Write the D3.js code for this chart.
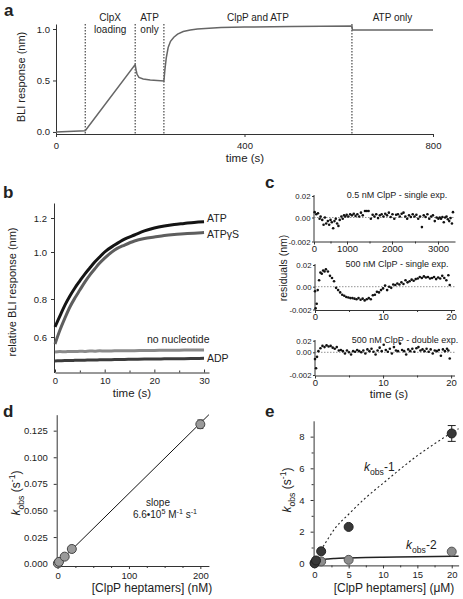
<!DOCTYPE html>
<html><head><meta charset="utf-8">
<script src="https://cdn.jsdelivr.net/npm/d3@7"></script>
<style>
body{margin:0;background:#fff}
svg{display:block}
text{font-family:"Liberation Sans",Arial,Helvetica,sans-serif;fill:#222}
</style>
</head><body>
<svg id="fig" width="463" height="599"></svg>
<script>
// ---------------- DATA ----------------
// panel a: BLI trace
const aTime = [0, 62, 168, 170, 172, 176, 185, 200, 229, 231, 234, 238, 243, 250, 258, 270, 285, 300, 350, 400, 500, 628, 629, 700, 800];
const aResp = [0.0, 0.012, 0.655, 0.6, 0.56, 0.53, 0.515, 0.505, 0.495, 0.6, 0.72, 0.82, 0.88, 0.92, 0.95, 0.975, 0.99, 1.0, 1.015, 1.02, 1.025, 1.03, 0.99, 0.99, 0.99];
const aStepTimes = [62, 168, 229, 628];
const aStepLabels = [["ClpX", "loading"], ["ATP", "only"], ["ClpP and ATP"], ["ATP only"]];
const aXTicks = [0, 400, 800];
const aYTicks = [0, 0.5, 1.0];

// panel b: relative BLI response
const bTime = [0,1,2,3,4,5,6,7,8,9,10,12,14,16,18,20,22,24,26,28,30];
const bATP = [0.653,0.711,0.768,0.813,0.847,0.877,0.906,0.932,0.957,0.979,1.0,1.041,1.076,1.1,1.124,1.141,1.153,1.162,1.168,1.174,1.178];
const bATPgS = [0.563,0.637,0.7,0.758,0.804,0.838,0.872,0.902,0.928,0.953,0.974,1.012,1.041,1.065,1.079,1.088,1.097,1.103,1.107,1.111,1.114];
const bNoNuc = [0.52,0.522,0.521,0.523,0.522,0.524,0.523,0.525,0.524,0.526,0.525,0.526,0.527,0.527,0.528,0.528,0.529,0.529,0.53,0.53,0.531];
const bADP = [0.472,0.473,0.474,0.474,0.475,0.476,0.476,0.477,0.477,0.478,0.478,0.479,0.48,0.481,0.482,0.482,0.483,0.484,0.484,0.485,0.486];
const bSeriesNames = ["ATP", "ATPγS", "no nucleotide", "ADP"];
const bXTicks = [0, 10, 20, 30];
const bYTicks = [0.6, 0.8, 1.0, 1.2];

// panel c: residuals (units of 1e-3 nm)
const cTitles = ["0.5 nM ClpP - single exp.", "500 nM ClpP - single exp.", "500 nM ClpP - double exp."];
const cYTickLabels = ["-0.002", "0.00", "0.02"];
const cTopT = [20,70,120,170,200,250,290,330,370,420,460,500,540,580,620,660,700,740,780,830,870,910,950,990,1030,1070,1110,1150,1190,1230,1270,1310,1350,1400,1440,1480,1530,1570,1610,1650,1690,1730,1770,1810,1850,1890,1930,1970,2010,2050,2090,2130,2170,2210,2250,2290,2330,2370,2410,2450,2490,2530,2570,2610,2650,2690,2730,2770,2810,2850,2890,2930,2970,3010,3050,3090,3130,3170,3210,3250,3290,3330,3370,3410,3440];
const cTopV = [0.5,0.3,0.4,-0.1,0.1,-0.2,-0.6,0.0,-0.5,-0.3,-0.6,-0.2,-0.4,-0.9,-0.3,-0.1,-0.5,-0.7,-0.2,0.1,-0.1,0.2,0.1,0.25,0.1,0.3,0.2,0.35,0.15,0.3,0.1,0.45,0.2,0.6,0.6,0.6,-0.1,0.25,0.1,0.3,-0.05,0.2,0.3,0.1,0.35,0.2,0.45,0.05,0.3,-0.1,0.25,0.3,0.1,0.35,0.45,0.1,-0.1,0.2,0.05,0.3,0.1,0.25,-0.1,0.1,-0.8,0.2,0.05,0.3,-0.1,0.1,0.2,-0.3,0.0,-0.1,0.0,-0.1,0.05,-0.4,0.0,0.1,-0.15,-0.3,-0.05,-0.5,0.5];
const cMidT = [0,0.1,0.25,0.4,0.6,0.8,1.0,1.2,1.4,1.6,1.9,2.2,2.5,2.8,3.1,3.4,3.7,4.0,4.3,4.6,4.9,5.2,5.5,5.8,6.1,6.4,6.7,7.0,7.3,7.6,7.9,8.2,8.5,8.8,9.1,9.4,9.7,10.0,10.3,10.6,10.9,11.2,11.5,11.8,12.1,12.4,12.7,13.0,13.3,13.6,13.9,14.2,14.5,14.8,15.1,15.4,15.7,16.0,16.3,16.6,16.9,17.2,17.5,17.8,18.1,18.4,18.7,19.0,19.3,19.6,19.8];
const cMidV = [-0.4,-1.9,-1.5,-0.3,0.6,1.3,1.2,1.5,1.4,1.6,1.4,1.0,0.8,0.5,-0.1,-0.3,-0.5,-0.7,-0.8,-0.9,-0.95,-1.0,-1.0,-1.05,-1.1,-1.0,-1.15,-1.05,-1.2,-1.1,-1.0,-1.1,-0.75,-0.7,-0.45,-0.5,-0.3,-0.15,0.1,-0.3,0.0,-0.1,0.2,0.15,0.3,0.2,0.4,0.25,0.6,0.4,0.5,0.65,0.55,0.7,0.75,0.9,0.8,0.95,0.85,0.9,0.75,0.8,0.9,0.7,0.85,0.75,1.0,0.8,0.6,1.05,0.15];
const cBotT = [0,0.15,0.3,0.5,0.8,1.1,1.4,1.7,2.0,2.3,2.6,2.9,3.2,3.5,3.8,4.1,4.4,4.7,5.0,5.3,5.6,5.9,6.2,6.5,6.8,7.1,7.4,7.7,8.0,8.3,8.6,8.9,9.2,9.5,9.8,10.1,10.4,10.7,11.0,11.3,11.6,11.9,12.2,12.5,12.8,13.1,13.4,13.7,14.0,14.3,14.6,14.9,15.2,15.5,15.8,16.1,16.4,16.7,17.0,17.3,17.6,17.9,18.2,18.5,18.8,19.1,19.4,19.6,19.8];
const cBotV = [-0.6,-1.4,-0.4,0.2,0.7,1.1,0.9,1.2,1.0,1.1,0.8,0.6,0.9,0.3,0.4,0.2,-0.1,0.3,0.0,-0.2,0.2,0.1,0.4,0.2,0.0,0.3,-0.1,0.5,0.2,0.6,0.1,-0.2,0.3,0.8,0.2,1.3,0.4,0.1,0.6,-0.1,0.9,0.3,0.2,1.5,0.4,0.2,-0.2,0.5,0.2,0.6,0.1,0.7,0.9,0.3,0.5,0.2,0.6,0.1,0.5,-0.1,0.3,0.2,0.4,-0.3,0.5,0.2,0.6,0.3,-0.55];

// panel d
const dConc = [0.5, 2, 10, 20, 200];
const dKobs = [0.0003, 0.0017, 0.0066, 0.0138, 0.131];
const dErr = [0, 0, 0, 0, 0.004];
const dFitX = [0, 212];
const dFitY = [0, 0.14];
const dXTicks = [0, 100, 200];
const dYTicks = [0, 0.025, 0.05, 0.075, 0.1, 0.125];

// panel e
const eConc = [0.05, 0.25, 1, 5, 20];
const eK1 = [0.0, 0.18, 0.76, 2.3, 8.2];
const eK1Err = [0, 0, 0, 0, 0.5];
const eK2 = [0.04, 0.1, 0.12, 0.22, 0.74];
const eFit1X = [0, 0.5, 1, 2, 3, 5, 7.5, 10, 12.5, 15, 17.5, 20, 21];
const eFit1Y = [0.05, 0.45, 0.85, 1.55, 2.2, 3.1, 4.15, 5.05, 5.95, 6.8, 7.55, 8.25, 8.5];
const eFit2X = [0, 0.25, 0.5, 1, 2, 3, 5, 7.5, 10, 15, 21];
const eFit2Y = [0, 0.1, 0.16, 0.22, 0.28, 0.31, 0.34, 0.37, 0.39, 0.42, 0.45];
const eXTicks = [0, 5, 10, 15, 20];
const eYTicks = [0, 2, 4, 6, 8];

// ---------------- HELPERS ----------------
const FONT = '"Liberation Sans", Arial, Helvetica, sans-serif';
const svg = d3.select("#fig");
const AX = "#333";

function styleAxis(g, fs) {
  g.attr("font-family", FONT).attr("font-size", fs);
  g.select(".domain").attr("stroke", AX).attr("stroke-width", 1);
  g.selectAll(".tick line").attr("stroke", AX);
  g.selectAll(".tick text").attr("fill", "#222");
  return g;
}
function minor(g, gen, vals, size) {
  const m = g.append("g").call(gen.tickValues(vals).tickFormat("").tickSize(size === undefined ? 2 : size));
  m.select(".domain").remove();
  m.selectAll(".tick line").attr("stroke", AX);
}
function rich(g, x, y, parts, fs, anchor, rot) {
  const t = g.append("text").attr("x", x).attr("y", y).attr("font-size", fs)
    .attr("text-anchor", anchor || "start");
  if (rot) t.attr("transform", `rotate(${rot},${x},${y})`);
  let shift = 0;
  parts.forEach(p => {
    const target = p.sub ? fs * 0.3 : p.sup ? -fs * 0.4 : 0;
    const s = t.append("tspan").text(p.t).attr("dy", target - shift);
    shift = target;
    if (p.sub || p.sup) s.attr("font-size", fs * 0.72);
    if (p.it) s.attr("font-style", "italic");
  });
  return t;
}
function panelLabel(x, y, s) {
  svg.append("text").attr("x", x).attr("y", y).attr("font-size", 17)
    .attr("font-weight", "bold").attr("fill", "#111").text(s);
}

// ---------------- PANEL A ----------------
{
  const x = d3.scaleLinear().domain([0, 800]).range([56, 433]);
  const y = d3.scaleLinear().domain([-0.02, 1.0, 1.05]).range([134, 29, 24]);
  const g = svg.append("g");
  styleAxis(g.append("g").attr("transform", "translate(0,134)")
    .call(d3.axisBottom(x).tickValues(aXTicks).tickSize(3).tickPadding(5.5).tickSizeOuter(0)), 9.5);
  styleAxis(g.append("g").attr("transform", "translate(56,0)")
    .call(d3.axisLeft(y).tickValues(aYTicks).tickFormat(d3.format(".1f")).tickSize(3).tickPadding(3).tickSizeOuter(0)), 9.5);
  g.selectAll("line.step").data(aStepTimes).join("line")
    .attr("x1", d => x(d)).attr("x2", d => x(d)).attr("y1", 24).attr("y2", 134)
    .attr("stroke", "#222").attr("stroke-width", 1).attr("stroke-dasharray", "1.5,1.5");
  const pts = aTime.map((t, i) => [t, aResp[i]]);
  g.append("path").datum(pts).attr("fill", "none").attr("stroke", "#666").attr("stroke-width", 1.5)
    .attr("d", d3.line().x(d => x(d[0])).y(d => y(d[1])));
  const bounds = [aStepTimes[0], aStepTimes[1], aStepTimes[2], aStepTimes[3], 800];
  aStepLabels.forEach((lines, i) => {
    const cx = (x(bounds[i]) + x(bounds[i + 1])) / 2;
    lines.forEach((ln, j) => g.append("text").attr("x", cx).attr("y", 21 + j * 12)
      .attr("text-anchor", "middle").attr("font-size", 10).text(ln));
  });
  g.append("text").attr("x", 245).attr("y", 162).attr("text-anchor", "middle").attr("font-size", 11.5).text("time (s)");
  g.append("text").attr("x", 25).attr("y", 77).attr("text-anchor", "middle").attr("font-size", 11)
    .attr("transform", "rotate(-90,25,77)").text("BLI response (nm)");
  panelLabel(4, 15.5, "a");
}

// ---------------- PANEL B ----------------
{
  const x = d3.scaleLinear().domain([0, 31]).range([55, 209]);
  const y = d3.scaleLinear().domain([0.41, 0.6, 0.8, 1.0, 1.2, 1.29]).range([372.5, 337, 299, 252, 218, 203]);
  const g = svg.append("g");
  const xa = g.append("g").attr("transform", "translate(0,372.5)");
  xa.call(d3.axisBottom(x).tickValues(bXTicks).tickSize(-3).tickPadding(5).tickSizeOuter(0));
  styleAxis(xa, 9.5);
  minor(xa, d3.axisBottom(x), [5, 15, 25], -2);
  const ya = g.append("g").attr("transform", "translate(54,0)");
  ya.call(d3.axisLeft(y).tickValues(bYTicks).tickFormat(d3.format(".1f")).tickSize(3).tickPadding(4).tickSizeOuter(0));
  styleAxis(ya, 9.5);
  const series = [[bNoNuc, "#8a8a8a"], [bADP, "#3c3c3c"], [bATPgS, "#5e5e5e"], [bATP, "#141414"]];
  const line = d3.line().curve(d3.curveMonotoneX).x((d, i) => x(bTime[i])).y(d => y(d));
  series.forEach(([vals, col]) => g.append("path").datum(vals).attr("fill", "none")
    .attr("stroke", col).attr("stroke-width", 3).attr("d", line));
  g.append("text").attr("x", 207).attr("y", 222).attr("font-size", 10.5).text(bSeriesNames[0]);
  g.append("text").attr("x", 207).attr("y", 238).attr("font-size", 10.5).text(bSeriesNames[1]);
  g.append("text").attr("x", 147).attr("y", 343).attr("font-size", 10.5).text(bSeriesNames[2]);
  g.append("text").attr("x", 207).attr("y", 362).attr("font-size", 10.5).text(bSeriesNames[3]);
  g.append("text").attr("x", 132).attr("y", 397).attr("text-anchor", "middle").attr("font-size", 11.5).text("time (s)");
  g.append("text").attr("x", 16).attr("y", 292).attr("text-anchor", "middle").attr("font-size", 11)
    .attr("transform", "rotate(-90,16,292)").text("relative BLI response (nm)");
  panelLabel(3, 198, "b");
}

// ---------------- PANEL C ----------------
{
  const g = svg.append("g");
  const subs = [
    {T: cTopT, V: cTopV, xd: [0, 1000, 2000, 3000, 3500], xr: [314, 347, 392, 438, 455], xt: [0, 1000, 2000, 3000], xm: [500, 1500, 2500],
     yr: [241.5, 217.5, 196], axisY: 241.5, top: 195, title: cTitles[0], tx: 397, ty: 198},
    {T: cMidT, V: cMidV, xd: [0, 20.5], xr: [315, 454.5], xt: [0, 10, 20], xm: [5, 15],
     yr: [309.5, 286.7, 265], axisY: 310, top: 264, title: cTitles[1], tx: 397, ty: 267},
    {T: cBotT, V: cBotV, xd: [0, 20.5], xr: [315, 454.5], xt: [0, 10, 20], xm: [5, 15],
     yr: [375, 352.3, 340.7], axisY: 375.5, top: 340, title: cTitles[2], tx: 405, ty: 343}
  ];
  subs.forEach(s => {
    const x = d3.scaleLinear().domain(s.xd).range(s.xr);
    const y = d3.scaleLinear().domain([-2, 0, 2]).range(s.yr);
    const xa = g.append("g").attr("transform", `translate(0,${s.axisY})`);
    xa.call(d3.axisBottom(x).tickValues(s.xt).tickFormat(d3.format("d")).tickSize(3).tickPadding(0.5).tickSizeOuter(0));
    styleAxis(xa, 9.5);
    minor(xa, d3.axisBottom(x), s.xm);
    const ya = g.append("g").attr("transform", `translate(${s.xr[0]},0)`);
    ya.call(d3.axisLeft(y).tickValues([-2, 0, 2]).tickFormat((d, i) => cYTickLabels[i]).tickSize(2).tickPadding(1.5).tickSizeOuter(0));
    styleAxis(ya, 7.8);
    ya.select(".domain").attr("d", `M-0,${s.axisY}V${s.top}`);
    g.append("line").attr("x1", s.xr[0]).attr("x2", s.xr[s.xr.length - 1]).attr("y1", y(0)).attr("y2", y(0))
      .attr("stroke", "#777").attr("stroke-width", 0.8).attr("stroke-dasharray", "1.5,1.5");
    g.selectAll(null).data(s.V).join("circle")
      .attr("cx", (d, i) => x(s.T[i])).attr("cy", d => y(d)).attr("r", 1.3).attr("fill", "#111");
    g.append("text").attr("x", s.tx).attr("y", s.ty).attr("text-anchor", "middle").attr("font-size", 9).text(s.title);
  });
  g.append("text").attr("x", 389).attr("y", 398).attr("text-anchor", "middle").attr("font-size", 11.5).text("time (s)");
  g.append("text").attr("x", 287).attr("y", 268).attr("text-anchor", "middle").attr("font-size", 10.5)
    .attr("transform", "rotate(-90,287,268)").text("residuals (nm)");
  panelLabel(265, 188, "c");
}

// ---------------- PANEL D ----------------
{
  const x = d3.scaleLinear().domain([-1.2, 212]).range([56.7, 208.9]);
  const y = d3.scaleLinear().domain([-0.0022, 0.14]).range([566, 414.7]);
  const g = svg.append("g");
  const xa = g.append("g").attr("transform", "translate(0,566)");
  xa.call(d3.axisBottom(x).tickValues(dXTicks).tickSize(3).tickPadding(3).tickSizeOuter(0));
  styleAxis(xa, 9.5);
  minor(xa, d3.axisBottom(x), [25, 50, 75, 125, 150, 175]);
  const ya = g.append("g").attr("transform", "translate(56.7,0)");
  ya.call(d3.axisLeft(y).tickValues(dYTicks).tickFormat(d3.format(".3f")).tickSize(3).tickPadding(6).tickSizeOuter(0));
  styleAxis(ya, 9.5);
  g.append("line").attr("x1", x(dFitX[0])).attr("y1", y(dFitY[0])).attr("x2", x(dFitX[1])).attr("y2", y(dFitY[1]))
    .attr("stroke", "#111").attr("stroke-width", 1);
  dConc.forEach((c, i) => {
    if (dErr[i] > 0) {
      const cx = x(c);
      g.append("path").attr("d", `M${cx},${y(dKobs[i] - dErr[i])}V${y(dKobs[i] + dErr[i])}M${cx - 3},${y(dKobs[i] - dErr[i])}h6M${cx - 3},${y(dKobs[i] + dErr[i])}h6`)
        .attr("stroke", "#222").attr("stroke-width", 1).attr("fill", "none");
    }
  });
  g.selectAll(null).data(dConc).join("circle").attr("cx", d => x(d)).attr("cy", (d, i) => y(dKobs[i]))
    .attr("r", 4.5).attr("fill", "#9a9a9a").attr("stroke", "#444").attr("stroke-width", 1);
  g.append("text").attr("x", 158).attr("y", 506).attr("text-anchor", "middle").attr("font-size", 10).text("slope");
  rich(g, 165, 518, [{t: "6.6•10"}, {t: "5", sup: 1}, {t: " M"}, {t: "-1", sup: 1}, {t: " s"}, {t: "-1", sup: 1}], 10, "middle");
  rich(g, 152, 592, [{t: "[ClpP heptamers] (nM)"}], 12, "middle");
  rich(g, 20, 493, [{t: "k", it: 1}, {t: "obs", sub: 1}, {t: " (s"}, {t: "-1", sup: 1}, {t: ")"}], 12, "middle", -90);
  panelLabel(3, 417, "d");
}

// ---------------- PANEL E ----------------
{
  const x = d3.scaleLinear().domain([-0.1, 21]).range([313.6, 458.6]);
  const y = d3.scaleLinear().domain([-0.13, 9.0]).range([565.4, 420.8]);
  const g = svg.append("g");
  const xa = g.append("g").attr("transform", "translate(0,565.4)");
  xa.call(d3.axisBottom(x).tickValues(eXTicks).tickSize(3).tickPadding(3).tickSizeOuter(0));
  styleAxis(xa, 9.5);
  minor(xa, d3.axisBottom(x), [2.5, 7.5, 12.5, 17.5]);
  const ya = g.append("g").attr("transform", "translate(313.6,0)");
  ya.call(d3.axisLeft(y).tickValues(eYTicks).tickSize(3).tickPadding(6).tickSizeOuter(0));
  styleAxis(ya, 9.5);
  minor(ya, d3.axisLeft(y), [1, 3, 5, 7]);
  const line = d3.line().curve(d3.curveMonotoneX).x(d => x(d[0])).y(d => y(d[1]));
  g.append("path").datum(eFit1X.map((v, i) => [v, eFit1Y[i]])).attr("fill", "none").attr("stroke", "#222")
    .attr("stroke-width", 1.1).attr("stroke-dasharray", "2,2.5").attr("d", line);
  g.append("path").datum(eFit2X.map((v, i) => [v, eFit2Y[i]])).attr("fill", "none").attr("stroke", "#222")
    .attr("stroke-width", 1.5).attr("d", line);
  eConc.forEach((c, i) => {
    if (eK1Err[i] > 0) {
      const cx = x(c);
      g.append("path").attr("d", `M${cx},${y(eK1[i] - eK1Err[i])}V${y(eK1[i] + eK1Err[i])}M${cx - 4},${y(eK1[i] - eK1Err[i])}h8M${cx - 4},${y(eK1[i] + eK1Err[i])}h8`)
        .attr("stroke", "#222").attr("stroke-width", 1).attr("fill", "none");
    }
  });
  g.selectAll(null).data(eConc).join("circle").attr("cx", d => x(d)).attr("cy", (d, i) => y(eK2[i]))
    .attr("r", 4.5).attr("fill", "#8c8c8c").attr("stroke", "#555").attr("stroke-width", 1);
  g.selectAll(null).data(eConc).join("circle").attr("cx", d => x(d)).attr("cy", (d, i) => y(eK1[i]))
    .attr("r", 4.5).attr("fill", "#383838").attr("stroke", "#222").attr("stroke-width", 1);
  rich(g, 364, 471, [{t: "k", it: 1}, {t: "obs", sub: 1}, {t: "-1"}], 12);
  rich(g, 406, 549, [{t: "k", it: 1}, {t: "obs", sub: 1}, {t: "-2"}], 12);
  rich(g, 394, 592, [{t: "[ClpP heptamers] (μM)"}], 12, "middle");
  rich(g, 291, 490, [{t: "k", it: 1}, {t: "obs", sub: 1}, {t: " (s"}, {t: "-1", sup: 1}, {t: ")"}], 12, "middle", -90);
  panelLabel(265, 417, "e");
}
</script>
</body></html>
